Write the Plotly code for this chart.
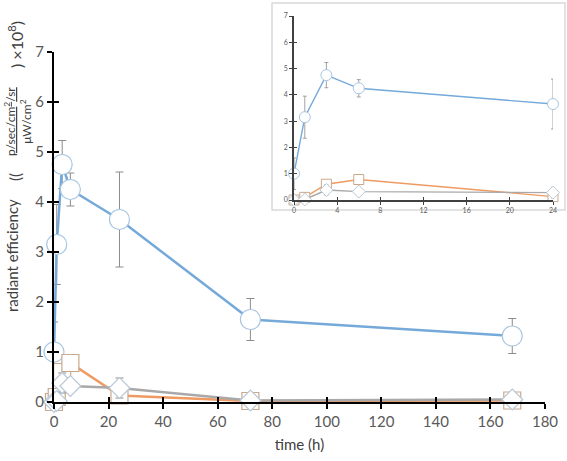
import plotly.graph_objects as go

# ---- data ----
time_main = [0, 1, 3, 6, 24, 72, 168]
blue = [1.0, 3.15, 4.75, 4.25, 3.65, 1.65, 1.32]
blue_err = [0.6, 0.8, 0.48, 0.33, 0.95, 0.42, 0.35]
orange = [0.0, 0.1, 0.6, 0.78, 0.13, 0.02, 0.03]
orange_err = [0.05, 0.05, 0.1, 0.15, 0.05, 0.02, 0.02]
gray = [0.0, 0.02, 0.38, 0.32, 0.28, 0.03, 0.05]
gray_err = [0.05, 0.05, 0.2, 0.1, 0.2, 0.02, 0.02]

n_in = 5  # inset shows first five time points (0-24 h)

x_ticks_main = [0, 20, 40, 60, 80, 100, 120, 140, 160, 180]
y_ticks_main = [0, 1, 2, 3, 4, 5, 6, 7]
x_ticks_inset = [0, 4, 8, 12, 16, 20, 24]

BLUE = "#74a9da"
ORANGE = "#ee9a62"
GRAY = "#a9a9a9"
ERR = "#8c8c8c"
FONT = "Lato"

fig = go.Figure()

series = [
    ("circle", blue, blue_err, BLUE, "#a8c6e2", 20, 11),
    ("square", orange, orange_err, ORANGE, "#c9a98c", 17, 10),
    ("diamond", gray, gray_err, GRAY, "#b9c7d6", 16, 10),
]

# main traces
for sym, vals, err, col, mcol, msz, _ in series:
    fig.add_trace(go.Scatter(
        x=time_main, y=vals, mode="lines+markers",
        line=dict(color=col, width=2.5),
        marker=dict(symbol=sym, size=msz, color="white",
                    line=dict(color=mcol, width=1.2)),
        error_y=dict(type="data", array=err, color=ERR, thickness=1, width=4),
        cliponaxis=False, xaxis="x", yaxis="y", showlegend=False))

# inset traces
for sym, vals, err, col, mcol, _, msz in series:
    fig.add_trace(go.Scatter(
        x=time_main[:n_in], y=vals[:n_in], mode="lines+markers",
        line=dict(color=col, width=1.4),
        marker=dict(symbol=sym, size=msz, color="white",
                    line=dict(color=mcol, width=1)),
        error_y=dict(type="data", array=err[:n_in], color=ERR, thickness=0.8, width=2),
        cliponaxis=False, xaxis="x2", yaxis="y2", showlegend=False))

# dummy traces to make tick overlay axes render
fig.add_trace(go.Scatter(x=[None], y=[None], xaxis="x3", yaxis="y3", showlegend=False, hoverinfo="skip"))
fig.add_trace(go.Scatter(x=[None], y=[None], xaxis="x4", yaxis="y4", showlegend=False, hoverinfo="skip"))

W, H = 567, 461
L, R, T, B = 54, 10, 10, 59
pw = W - L - R
ph = H - T - B


def px(x):
    return (x - L) / pw


def py(y):
    return (H - B - y) / ph


main_xd = [0, px(545)]
main_yd = [0, py(52)]
ins_xd = [px(294), px(553)]
ins_yd = [py(200), py(16)]

axis_main = dict(showgrid=False, zeroline=False, showline=True, linecolor="black",
                 linewidth=2, ticks="outside", ticklen=5, tickwidth=2, tickcolor="black",
                 automargin=False,
                 tickfont=dict(family=FONT, size=15, color="#595959"))

fig.update_layout(
    template="none",
    width=W, height=H, margin=dict(l=L, r=R, t=T, b=B, autoexpand=False),
    paper_bgcolor="white", plot_bgcolor="rgba(0,0,0,0)",
    font=dict(family=FONT),
    xaxis=dict(axis_main, domain=main_xd, range=[0, 180], tickvals=x_ticks_main,
               anchor="y", title=dict(text="time (h)", font=dict(family=FONT, size=15, color="#404040"), standoff=10)),
    yaxis=dict(axis_main, domain=main_yd, range=[0, 7], tickvals=y_ticks_main, anchor="x"),
    xaxis3=dict(showgrid=False, zeroline=False, showline=False, overlaying="x", matches="x",
                anchor="y3", ticks="inside", ticklen=5, tickwidth=2, tickcolor="black", automargin=False,
                tickvals=x_ticks_main, showticklabels=False, domain=main_xd),
    yaxis3=dict(showgrid=False, zeroline=False, showline=False, overlaying="y", matches="y",
                anchor="x3", ticks="inside", ticklen=5, tickwidth=2, tickcolor="black", automargin=False,
                tickvals=y_ticks_main, showticklabels=False, domain=main_yd),
    xaxis2=dict(domain=ins_xd, range=[0, 24], tickvals=x_ticks_inset, anchor="y2", automargin=False,
                showgrid=False, zeroline=False, showline=True, linecolor="#404040", linewidth=1.5,
                ticks="outside", ticklen=3, tickwidth=1.2, tickcolor="#404040",
                tickfont=dict(family=FONT, size=7, color="#595959")),
    yaxis2=dict(domain=ins_yd, range=[0, 7], tickvals=y_ticks_main, anchor="x2", automargin=False,
                showgrid=False, zeroline=False, showline=True, linecolor="#404040", linewidth=1.5,
                ticks="outside", ticklen=3, tickwidth=1.2, tickcolor="#404040",
                tickfont=dict(family=FONT, size=7, color="#595959")),
    xaxis4=dict(overlaying="x2", matches="x2", anchor="y4", domain=ins_xd, showgrid=False, automargin=False,
                zeroline=False, showline=False, ticks="inside", ticklen=3, tickwidth=1.2,
                tickcolor="#404040", tickvals=x_ticks_inset, showticklabels=False),
    yaxis4=dict(overlaying="y2", matches="y2", anchor="x4", domain=ins_yd, showgrid=False, automargin=False,
                zeroline=False, showline=False, ticks="inside", ticklen=3, tickwidth=1.2,
                tickcolor="#404040", tickvals=y_ticks_main, showticklabels=False),
)

# inset frame
fig.add_shape(type="rect", xref="paper", yref="paper",
              x0=px(272), x1=px(565), y0=py(210), y1=py(3),
              line=dict(color="#d9d9d9", width=1.5), fillcolor="white", layer="below")

# rotated y-axis title pieces
tcol = "#404040"
ann = [
    ("radiant efficiency", 12, 256, 15),
    ("((", 15, 177, 15),
    ("<u>p/sec/cm<sup>2</sup>/sr</u><br>μW/cm<sup>2</sup>", 18, 122, 12),
    (") ×10<sup>8</sup>)", 15, 45, 16),
]
for text, ax_, ay_, fs in ann:
    fig.add_annotation(text=text, xref="paper", yref="paper", x=px(ax_), y=py(ay_),
                       textangle=-90, showarrow=False, xanchor="center", yanchor="middle",
                       font=dict(family=FONT, size=fs, color=tcol))

fig.write_html("out.html")
